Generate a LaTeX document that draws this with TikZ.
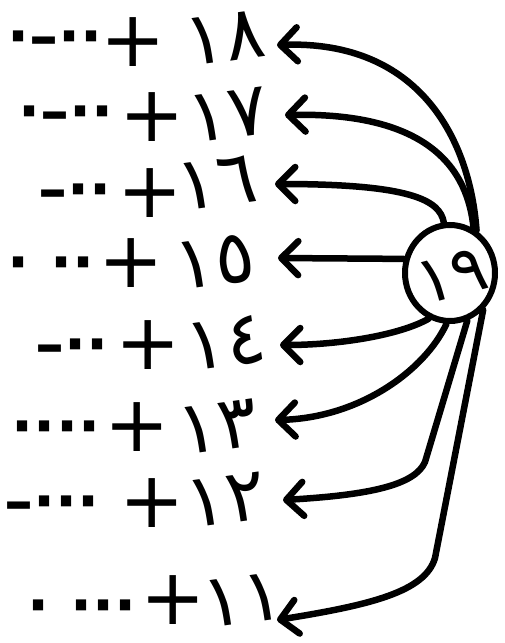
\documentclass[tikz,border=0pt]{standalone}
\usepackage{fontspec}
\setmainfont{DejaVu Sans}
\newfontfamily\arfont[Script=Arabic]{DejaVu Sans}
\usetikzlibrary{arrows.meta,shapes.geometric}
\begin{document}
\begin{tikzpicture}[x=1pt,y=-1pt,
 lnk/.style={line width=6.5pt, line cap=round, line join=round,
   -{Straight Barb[length=17pt,width=34pt,line width=6.5pt,round]}},
 num/.style={font=\arfont\fontsize{74}{74}\selectfont, inner sep=0pt, rotate=8},
 plusnode/.style={font=\fontsize{78}{78}\selectfont, inner sep=0pt},
 dotsnode/.style={font=\bfseries\fontsize{58}{58}\selectfont, inner sep=0pt},
 hub/.style={ellipse, draw, line width=6pt, minimum width=90pt, minimum height=96pt, inner sep=0pt},
]
\useasboundingbox (0,0) rectangle (504,643);
\fill[white] (0,0) rectangle (504,643);

% hub
\node[hub] (c) at (450,273) {};
\node[font=\arfont\fontsize{66}{66}\selectfont, inner sep=0pt, rotate=15] (c19) at (452,276) {١٩};

% rows
\node[dotsnode] (d18) at (55,44) {·–··};
\node[plusnode] (p18) at (133,42) {+};
\node[num] (n18) at (225,38) {١٨};
\coordinate (t18) at (277,45);

\node[dotsnode] (d17) at (66,119) {·–··};
\node[plusnode] (p17) at (152,117) {+};
\node[num] (n17) at (228,115) {١٧};
\coordinate (t17) at (285,115);

\node[dotsnode] (d16) at (75,197) {–··};
\node[plusnode] (p16) at (150,193) {+};
\node[num] (n16) at (217,183) {١٦};
\coordinate (t16) at (275,184);

\node[dotsnode] (d15) at (51,270) {· ··};
\node[plusnode] (p15) at (131,263) {+};
\node[num] (n15) at (215,262) {١٥};
\coordinate (t15) at (278,258);

\node[dotsnode] (d14) at (72,352) {–··};
\node[plusnode] (p14) at (148,345) {+};
\node[num] (n14) at (226,343) {١٤};
\coordinate (t14) at (280,345);

\node[dotsnode] (d13) at (56,434) {····};
\node[plusnode] (p13) at (137,427) {+};
\node[num] (n13) at (218,427) {١٣};
\coordinate (t13) at (275,420);

\node[dotsnode] (d12) at (52,509) {–···};
\node[plusnode] (p12) at (152,503) {+};
\node[num] (n12) at (226,500) {١٢};
\coordinate (t12) at (283,500);

\node[dotsnode] (d11) at (82,613) {· ···};
\node[plusnode] (p11) at (173,600) {+};
\node[num] (n11) at (243,600) {١١};
\coordinate (t11) at (277,620);

\coordinate (b12) at (425,462);
\coordinate (b11) at (435,558);

% connectors
\draw[lnk] (c.58) .. controls (470,140) and (420,40) .. (t18);
\draw[lnk] (c.62) .. controls (468,170) and (430,112) .. (t17);
\draw[lnk] (c.97) .. controls (440,200) and (410,184) .. (t16);
\draw[lnk] (c.163) -- (t15);
\draw[lnk] (c.245) .. controls (400,335) and (340,345) .. (t14);
\draw[lnk] (c.266) .. controls (425,370) and (360,418) .. (t13);
\draw[lnk] (c.290) -- (b12) .. controls (415,485) and (370,495) .. (t12);
\draw[lnk] (c.312) -- (b11) .. controls (425,592) and (370,605) .. (t11);
\end{tikzpicture}
\end{document}
